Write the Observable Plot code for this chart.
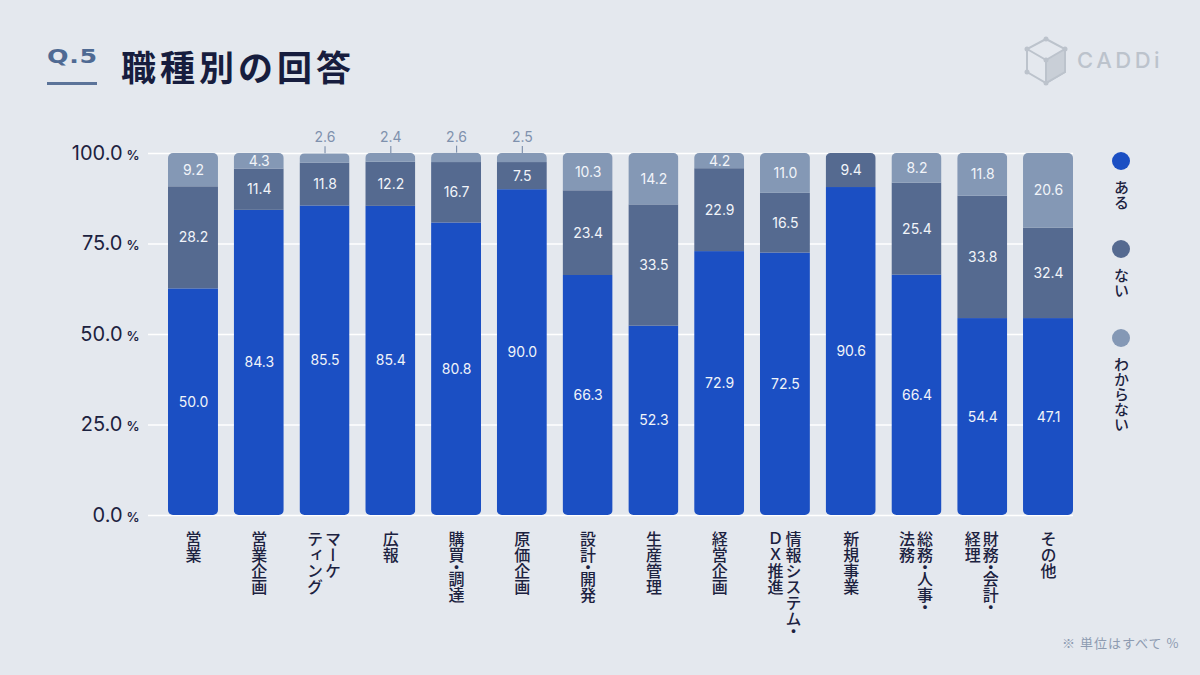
<!DOCTYPE html>
<html>
<head>
<meta charset="utf-8">
<script src="https://cdn.jsdelivr.net/npm/d3@7"></script>
<script src="https://cdn.jsdelivr.net/npm/@observablehq/plot@0.6"></script>
<style>
  html, body { margin: 0; padding: 0; background: #e4e8ee; }
  #wrap { position: relative; width: 1200px; height: 675px; overflow: hidden; background: #e4e8ee;
          font-family: "Noto Sans CJK JP", "Inter", sans-serif; }
  #chart { position: absolute; left: 0; top: 0; }
  .q { position: absolute; left: 47px; top: 44px; font-family: "DejaVu Sans", "Inter", sans-serif; font-weight: 700;
       font-size: 19px; letter-spacing: 0.5px; color: #4f6a93; line-height: 24px;
       transform: scaleX(1.33); transform-origin: left center; white-space: nowrap; }
  .qline { position: absolute; left: 47px; top: 82px; width: 50px; height: 3px; background: #5b7399; }
  .title { position: absolute; left: 121px; top: 42px; font-family: "Noto Sans CJK JP", sans-serif; font-weight: 700;
           font-size: 35px; letter-spacing: 4px; color: #171d3e; line-height: 48px; white-space: nowrap; }
  .logo { position: absolute; left: 1024px; top: 36px; }
  .logotext { position: absolute; left: 1077px; top: 45px; font-family: "Inter", sans-serif; font-weight: 500;
              font-size: 22px; letter-spacing: 3.5px; color: #bcc3cc; line-height: 30px; }
  .legend { position: absolute; left: 1108px; width: 26px; text-align: center; }
  .legend .dot { width: 18px; height: 18px; border-radius: 50%; margin: 0 auto; }
  .legend .lab { writing-mode: vertical-rl; font-size: 15px; color: #1c2240; margin: 10px auto 0; line-height: 26px;
                 font-family: "Noto Sans CJK JP", sans-serif; font-weight: 500; }
  .note { position: absolute; left: 1062px; top: 633px; font-size: 13px; letter-spacing: 1px; color: #8d9bb1;
          font-family: "Noto Sans CJK JP", sans-serif; white-space: nowrap; }
</style>
</head>
<body>
<div id="wrap">
  <div class="q">Q.5</div>
  <div class="qline"></div>
  <div class="title">職種別の回答</div>
  <svg class="logo" width="46" height="50" viewBox="0 0 46 50">
    <polygon points="22,3 41,13 41,36 22,47 3,36 3,13" fill="none" stroke="#bcc3cc" stroke-width="2"/>
    <polygon points="22,24 41,13 41,36 22,47" fill="#c9cfd7" stroke="#bcc3cc" stroke-width="2"/>
    <polyline points="3,13 22,24 22,47" fill="none" stroke="#bcc3cc" stroke-width="2"/>
    <circle cx="22" cy="3" r="2.5" fill="#bcc3cc"/><circle cx="3" cy="13" r="2.5" fill="#bcc3cc"/>
    <circle cx="3" cy="36" r="2.5" fill="#bcc3cc"/><circle cx="22" cy="47" r="2.5" fill="#bcc3cc"/>
    <circle cx="22" cy="24" r="2.5" fill="#bcc3cc"/><circle cx="41" cy="13" r="2.5" fill="#bcc3cc"/>
  </svg>
  <div class="logotext">CADDi</div>
  <div id="chart"></div>
  <div id="legend"></div>
  <div class="note">※ 単位はすべて %</div>
</div>
<script>
// ---- data ----
const categories = ["営業", "営業企画", "マーケティング", "広報", "購買・調達", "原価企画", "設計・開発",
  "生産管理", "経営企画", "情報システム・DX推進", "新規事業", "総務・人事・法務", "財務・会計・経理", "その他"];
// tick-label columns (vertical text, right column first)
const categoryLabels = [["営業"], ["営業企画"], ["マーケ", "ティング"], ["広報"], ["購買・調達"], ["原価企画"],
  ["設計・開発"], ["生産管理"], ["経営企画"], ["情報システム・", "ＤＸ推進"], ["新規事業"],
  ["総務・人事・", "法務"], ["財務・会計・", "経理"], ["その他"]];
const keys = ["ある", "ない", "わからない"];
const colors = ["#1b4fc3", "#556a90", "#8498b5"];
// printed values
const aru       = [50.0, 84.3, 85.5, 85.4, 80.8, 90.0, 66.3, 52.3, 72.9, 72.5, 90.6, 66.4, 54.4, 47.1];
const nai       = [28.2, 11.4, 11.8, 12.2, 16.7,  7.5, 23.4, 33.5, 22.9, 16.5,  9.4, 25.4, 33.8, 32.4];
const wakaranai = [ 9.2,  4.3,  2.6,  2.4,  2.6,  2.5, 10.3, 14.2,  4.2, 11.0,  0.0,  8.2, 11.8, 20.6];
// segment heights as drawn in the original (differ from the printed value for 営業 and その他)
const aruBar    = [62.6, 84.3, 85.5, 85.4, 80.8, 90.0, 66.3, 52.3, 72.9, 72.5, 90.6, 66.4, 54.4, 54.4];
const naiBar    = [28.2, 11.4, 11.8, 12.2, 16.7,  7.5, 23.4, 33.5, 22.9, 16.5,  9.4, 25.4, 33.8, 25.0];
const wakaranaiBar = wakaranai;
const yTicks = [0, 25, 50, 75, 100];

// ---- tables ----
const rows = [];
categories.forEach((cat, i) => {
  rows.push({cat, key: keys[0], value: aruBar[i], label: aru[i]});
  rows.push({cat, key: keys[1], value: naiBar[i], label: nai[i]});
  rows.push({cat, key: keys[2], value: wakaranaiBar[i], label: wakaranai[i]});
});
const fmt = d3.format(".1f");
const isOutside = d => d.key === "わからない" && d.value > 0 && d.value < 3;
const tops = categories.map((c, i) => aruBar[i] + naiBar[i] + wakaranaiBar[i]);
const outside = rows.filter(isOutside).map(d => ({...d, top: tops[categories.indexOf(d.cat)]}));

const labelCols = [];
categories.forEach((cat, i) => {
  const cols = categoryLabels[i];
  cols.forEach((t, j) => labelCols.push({cat, text: t, n: cols.length, j}));
});

const textCommon = {fontFamily: "Noto Sans CJK JP", fontSize: 16, fontWeight: 500, fill: "#1c2240",
  frameAnchor: "bottom", textAnchor: "start", lineAnchor: "bottom", dy: 15, ariaLabel: () => "xl"};

const chart = Plot.plot({
  width: 1200, height: 675,
  marginTop: 153, marginBottom: 160, marginLeft: 148, marginRight: 127,
  x: {domain: categories, paddingInner: 0.24, paddingOuter: 0.152, align: 1, round: false, axis: null},
  y: {domain: [0, 100], axis: null},
  color: {domain: keys, range: colors},
  style: {background: "transparent", fontFamily: "Inter, 'Noto Sans CJK JP', sans-serif", overflow: "visible"},
  marks: [
    Plot.ruleY(yTicks, {y: d => d, stroke: "#ffffff", strokeWidth: 1.6}),
    Plot.barY(rows, {x: "cat", y: "value", fill: "key", ariaLabel: () => "seg"}),
    Plot.text(rows, Plot.stackY({x: "cat", y: "value", z: "key",
      text: d => (d.value > 0 && !isOutside(d)) ? fmt(d.label) : "",
      fill: "#f1f4f9", fontSize: 14, fontFamily: "Inter"})),
    Plot.ruleX(outside, {x: "cat", y1: "top", y2: "top", insetTop: -7, stroke: "#8193ae", strokeWidth: 1.2}),
    Plot.text(outside, {x: "cat", y: "top", text: d => fmt(d.label), dy: -16, fill: "#7f91ad", fontSize: 14, fontFamily: "Inter"}),
    // y tick labels
    Plot.text(yTicks, {y: d => d, text: d => fmt(d), frameAnchor: "left", textAnchor: "end", dx: -26,
      fontSize: 20, fill: "#1c2240", fontFamily: "Inter"}),
    Plot.text(yTicks, {y: d => d, text: () => "%", frameAnchor: "left", textAnchor: "end", dx: -9, dy: 2,
      fontSize: 13, fontWeight: 600, fill: "#1c2240", fontFamily: "Inter"}),
    // x category labels (vertical)
    Plot.text(labelCols.filter(d => d.n === 1), {x: "cat", text: "text", ...textCommon}),
    Plot.text(labelCols.filter(d => d.n === 2 && d.j === 0), {x: "cat", text: "text", ...textCommon, dx: 8}),
    Plot.text(labelCols.filter(d => d.n === 2 && d.j === 1), {x: "cat", text: "text", ...textCommon, dx: -10})
  ]
});
document.getElementById("chart").appendChild(chart);

// vertical writing for category labels; half-width middle dots
const NS = "http://www.w3.org/2000/svg";
d3.select(chart).selectAll('text[aria-label="xl"]').each(function () {
  const t = this.textContent;
  this.textContent = "";
  t.split(/(・)/).forEach(part => {
    if (!part) return;
    const ts = document.createElementNS(NS, "tspan");
    ts.textContent = part;
    if (part === "・") ts.setAttribute("style", "font-feature-settings: 'vhal' 1;");
    this.appendChild(ts);
  });
  this.style.writingMode = "vertical-rl";
  this.removeAttribute("aria-label");
});

// rounded corners for each whole stacked bar
const svg = d3.select(chart);
const defs = svg.append("defs");
const groups = d3.group(svg.selectAll('rect[aria-label="seg"]').nodes(), n => n.getAttribute("x"));
let k = 0;
for (const [x, nodes] of groups) {
  const ys = nodes.map(n => +n.getAttribute("y"));
  const ye = nodes.map(n => +n.getAttribute("y") + +n.getAttribute("height"));
  const w = +nodes[0].getAttribute("width");
  const id = "clipbar" + (k++);
  defs.append("clipPath").attr("id", id).append("rect")
    .attr("x", x).attr("y", d3.min(ys)).attr("width", w).attr("height", d3.max(ye) - d3.min(ys))
    .attr("rx", 5).attr("ry", 5);
  nodes.forEach(n => { n.setAttribute("clip-path", `url(#${id})`); n.removeAttribute("aria-label"); });
}

// legend
const legend = d3.select("#legend");
const legendTops = [152, 240, 329];
keys.forEach((key, i) => {
  const item = legend.append("div").attr("class", "legend").style("top", legendTops[i] + "px");
  item.append("div").attr("class", "dot").style("background", colors[i]);
  item.append("div").attr("class", "lab").text(key);
});
</script>
</body>
</html>
